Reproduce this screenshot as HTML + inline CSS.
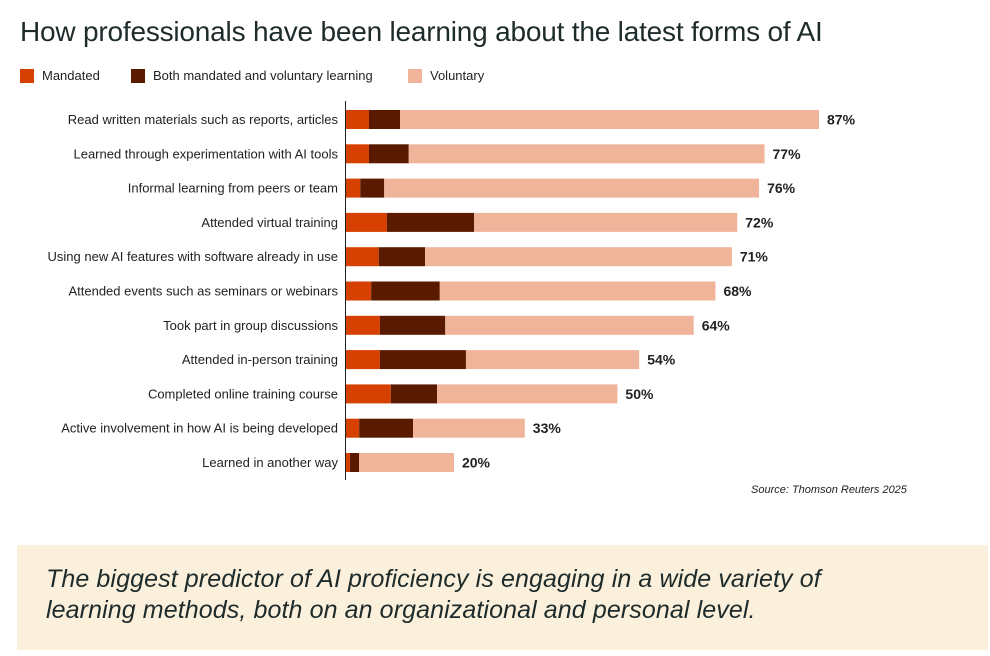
<!DOCTYPE html>
<html><head><meta charset="utf-8">
<style>
body{margin:0;width:990px;height:656px;background:#fff;font-family:"Liberation Sans",sans-serif;position:relative;overflow:hidden}
.title{position:absolute;left:20px;top:16px;font-size:28px;color:#1e2b2b;letter-spacing:-0.2px}
.legend{position:absolute;top:68px;font-size:13px;color:#222;display:flex;align-items:center}
.sw{width:14px;height:14px;display:inline-block;margin-right:8px}
.note{position:absolute;left:17px;top:545px;width:971px;height:105px;background:#fbf0dc}
.note p{margin:0;position:absolute;left:29px;top:19px;font-size:25px;font-style:italic;color:#1e2b2b;line-height:31px;letter-spacing:0.1px}
</style></head><body>
<div class="title">How professionals have been learning about the latest forms of AI</div>
<div class="legend" style="left:20px"><span class="sw" style="background:#d64000"></span>Mandated</div>
<div class="legend" style="left:131px"><span class="sw" style="background:#5a1a00"></span>Both mandated and voluntary learning</div>
<div class="legend" style="left:408px"><span class="sw" style="background:#f0b49a"></span>Voluntary</div>
<svg id="chart" width="990" height="520" style="position:absolute;left:0;top:0"></svg>
<div style="position:absolute;left:751px;top:484px;font-size:11px;font-style:italic;color:#222">Source: Thomson Reuters 2025</div>
<div class="note"><p>The biggest predictor of AI proficiency is engaging in a wide variety of<br>learning methods, both on an organizational and personal level.</p></div>
<script>
const categories=["Read written materials such as reports, articles","Learned through experimentation with AI tools","Informal learning from peers or team","Attended virtual training","Using new AI features with software already in use","Attended events such as seminars or webinars","Took part in group discussions","Attended in-person training","Completed online training course","Active involvement in how AI is being developed","Learned in another way"];
const mandated=[4.4,4.4,2.8,7.7,6.2,4.8,6.4,6.4,8.4,2.6,0.9];
const both=[5.7,7.3,4.4,16,8.5,12.6,12,15.8,8.5,9.9,1.7];
const totals=[87,77,76,72,71,68,64,54,50,33,20];
const labels=["87%","77%","76%","72%","71%","68%","64%","54%","50%","33%","20%"];
const NS="http://www.w3.org/2000/svg";
const svg=document.getElementById('chart');
const x0=345,k=(819-345)/87;
const xs=v=>x0+v*k;
const yc=i=>119.5+i*34.3;
const bh=19;
function mk(t,a){const e=document.createElementNS(NS,t);for(const n in a)e.setAttribute(n,a[n]);svg.appendChild(e);return e;}
categories.forEach((c,i)=>{
  const y=yc(i)-bh/2;
  const m=mandated[i],b=both[i],t=totals[i];
  let r=mk('rect',{x:xs(0),y:y,width:xs(m)-xs(0),height:bh,fill:'#d64000'});
  
  
  r=mk('rect',{x:xs(m),y:y,width:xs(m+b)-xs(m),height:bh,fill:'#5a1a00'});
  
  
  r=mk('rect',{x:xs(m+b),y:y,width:xs(t)-xs(m+b),height:bh,fill:'#f0b49a'});
  
  
  let tx=mk('text',{x:338,y:yc(i)+4.5,'text-anchor':'end','font-size':'13',fill:'#222','font-family':'Liberation Sans, sans-serif'});
  tx.textContent=c;
  
  
  tx=mk('text',{x:xs(t)+8,y:yc(i)+5,'font-size':'14','font-weight':'bold',fill:'#222','font-family':'Liberation Sans, sans-serif'});
  tx.textContent=labels[i];
  
  
});
const ax=mk('line',{x1:345.5,x2:345.5,y1:101,y2:480,stroke:'#222','stroke-width':1});


</script>
</body></html>
